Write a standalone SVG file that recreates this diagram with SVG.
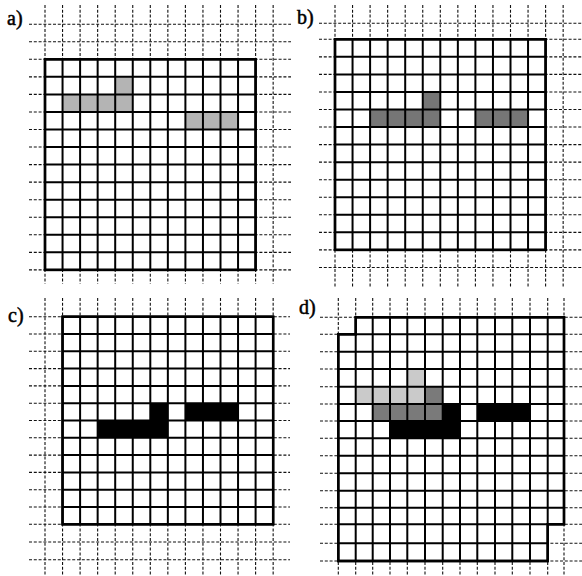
<svg xmlns="http://www.w3.org/2000/svg" width="582" height="576" viewBox="0 0 582 576">
<style>
.dash{fill:none;stroke:#111;stroke-width:1.1;stroke-dasharray:3 1.8}
.grid{fill:none;stroke:#000;stroke-width:2}
.box{fill:#fff;stroke:#000;stroke-width:2.4}
.lbl{font-family:"Liberation Serif","Times New Roman",serif;font-size:20px;fill:#000;stroke:#000;stroke-width:0.5}
.lightA{fill:#b4b4b4}
.darkB{fill:#767676}
.lightD{fill:#cacaca}
.midD{fill:#7a7a7a}
.blk{fill:#000}
</style>
<rect width="582" height="576" fill="#fff"/>

<g id="panel-a">
<path class="dash" d="M29 24.2H291M29 41.75H291M29 59.3H291M29 76.85H291M29 94.4H291M29 111.95H291M29 129.5H291M29 147.05H291M29 164.6H291M29 182.15H291M29 199.7H291M29 217.25H291M29 234.8H291M29 252.35H291M29 269.9H291"/>
<path class="dash" d="M45 5V284M62.55 5V284M80.1 5V284M97.65 5V284M115.2 5V284M132.75 5V284M150.3 5V284M167.85 5V284M185.4 5V284M202.95 5V284M220.5 5V284M238.05 5V284M255.6 5V284M273.15 5V284"/>
<rect class="box" x="45" y="59.3" width="210.6" height="210.6"/>
<rect class="lightA" x="115.2" y="76.85" width="17.55" height="17.55"/>
<rect class="lightA" x="62.55" y="94.4" width="70.2" height="17.55"/>
<rect class="lightA" x="185.4" y="111.95" width="52.65" height="17.55"/>
<path class="grid" d="M62.55 59.3V269.9M80.1 59.3V269.9M97.65 59.3V269.9M115.2 59.3V269.9M132.75 59.3V269.9M150.3 59.3V269.9M167.85 59.3V269.9M185.4 59.3V269.9M202.95 59.3V269.9M220.5 59.3V269.9M238.05 59.3V269.9M45 76.85H255.6M45 94.4H255.6M45 111.95H255.6M45 129.5H255.6M45 147.05H255.6M45 164.6H255.6M45 182.15H255.6M45 199.7H255.6M45 217.25H255.6M45 234.8H255.6M45 252.35H255.6"/>
<rect x="45" y="59.3" width="210.6" height="210.6" fill="none" stroke="#000" stroke-width="2.4"/>
<text class="lbl" x="7" y="25">a)</text>
</g>

<g id="panel-b">
<path class="dash" d="M319 23.3H582M319 39.3H582M319 56.85H582M319 74.4H582M319 91.95H582M319 109.5H582M319 127.05H582M319 144.6H582M319 162.15H582M319 179.7H582M319 197.25H582M319 214.8H582M319 232.35H582M319 249.9H582M319 267.45H582"/>
<path class="dash" d="M335 5V287M352.55 5V287M370.1 5V287M387.65 5V287M405.2 5V287M422.75 5V287M440.3 5V287M457.85 5V287M475.4 5V287M492.95 5V287M510.5 5V287M528.05 5V287M545.6 5V287M563.15 5V287"/>
<rect class="box" x="335" y="39.3" width="210.6" height="210.6"/>
<rect class="darkB" x="422.75" y="91.95" width="17.55" height="17.55"/>
<rect class="darkB" x="370.1" y="109.5" width="70.2" height="17.55"/>
<rect class="darkB" x="475.4" y="109.5" width="52.65" height="17.55"/>
<path class="grid" d="M352.55 39.3V249.9M370.1 39.3V249.9M387.65 39.3V249.9M405.2 39.3V249.9M422.75 39.3V249.9M440.3 39.3V249.9M457.85 39.3V249.9M475.4 39.3V249.9M492.95 39.3V249.9M510.5 39.3V249.9M528.05 39.3V249.9M335 56.85H545.6M335 74.4H545.6M335 91.95H545.6M335 109.5H545.6M335 127.05H545.6M335 144.6H545.6M335 162.15H545.6M335 179.7H545.6M335 197.25H545.6M335 214.8H545.6M335 232.35H545.6"/>
<rect x="335" y="39.3" width="210.6" height="210.6" fill="none" stroke="#000" stroke-width="2.4"/>
<text class="lbl" x="297" y="24">b)</text>
</g>

<g id="panel-c">
<path class="dash" d="M29 316.7H290M29 334H290M29 351.3H290M29 368.6H290M29 385.9H290M29 403.2H290M29 420.5H290M29 437.8H290M29 455.1H290M29 472.4H290M29 489.7H290M29 507H290M29 524.3H290M29 542H290M29 559.7H290"/>
<path class="dash" d="M45 298V575M62.55 298V575M80.1 298V575M97.65 298V575M115.2 298V575M132.75 298V575M150.3 298V575M167.85 298V575M185.4 298V575M202.95 298V575M220.5 298V575M238.05 298V575M255.6 298V575M273.15 298V575"/>
<rect class="box" x="62.55" y="316.7" width="210.6" height="207.6"/>
<rect class="blk" x="150.3" y="403.2" width="17.55" height="17.3"/>
<rect class="blk" x="97.65" y="420.5" width="70.2" height="17.3"/>
<rect class="blk" x="185.4" y="403.2" width="52.65" height="17.3"/>
<path class="grid" d="M80.1 316.7V524.3M97.65 316.7V524.3M115.2 316.7V524.3M132.75 316.7V524.3M150.3 316.7V524.3M167.85 316.7V524.3M185.4 316.7V524.3M202.95 316.7V524.3M220.5 316.7V524.3M238.05 316.7V524.3M255.6 316.7V524.3M62.55 334H273.15M62.55 351.3H273.15M62.55 368.6H273.15M62.55 385.9H273.15M62.55 403.2H273.15M62.55 420.5H273.15M62.55 437.8H273.15M62.55 455.1H273.15M62.55 472.4H273.15M62.55 489.7H273.15M62.55 507H273.15"/>
<rect x="62.55" y="316.7" width="210.6" height="207.6" fill="none" stroke="#000" stroke-width="2.4"/>
<text class="lbl" x="8" y="322">c)</text>
</g>

<g id="panel-d">
<path class="dash" d="M320 317.3H582M320 334.3H582M320 351.7H582M320 369H582M320 386.7H582M320 404H582M320 421H582M320 438.3H582M320 455.7H582M320 473.3H582M320 490.7H582M320 507.7H582M320 524.3H582M320 543.3H582M320 561H582"/>
<path class="dash" d="M338.3 298V575M355.7 298V575M372.7 298V575M390 298V575M407.3 298V575M425 298V575M442.7 298V575M460 298V575M477.3 298V575M495 298V575M512.3 298V575M530 298V575M547.7 298V575M564 298V575"/>
<path class="box" d="M355.7 317.3H564V524.3H547.7V561H338.3V334.3H355.7Z"/>
<rect class="lightD" x="407.3" y="369" width="17.7" height="17.7"/>
<rect class="lightD" x="355.7" y="386.7" width="69.3" height="17.3"/>
<rect class="midD" x="425" y="386.7" width="17.7" height="17.3"/>
<rect class="midD" x="372.7" y="404" width="70" height="17"/>
<rect class="blk" x="442.7" y="404" width="17.3" height="17"/>
<rect class="blk" x="390" y="421" width="70" height="17.3"/>
<rect class="blk" x="477.3" y="404" width="52.7" height="17"/>
<path class="grid" d="M355.7 334.3V561M372.7 317.3V561M390 317.3V561M407.3 317.3V561M425 317.3V561M442.7 317.3V561M460 317.3V561M477.3 317.3V561M495 317.3V561M512.3 317.3V561M530 317.3V561M547.7 317.3V524.3M355.7 334.3H564M338.3 351.7H564M338.3 369H564M338.3 386.7H564M338.3 404H564M338.3 421H564M338.3 438.3H564M338.3 455.7H564M338.3 473.3H564M338.3 490.7H564M338.3 507.7H564M338.3 524.3H547.7M338.3 543.3H547.7"/>
<path d="M355.7 317.3H564V524.3H547.7V561H338.3V334.3H355.7Z" fill="none" stroke="#000" stroke-width="2.4"/>
<text class="lbl" x="299" y="314">d)</text>
</g>
</svg>
